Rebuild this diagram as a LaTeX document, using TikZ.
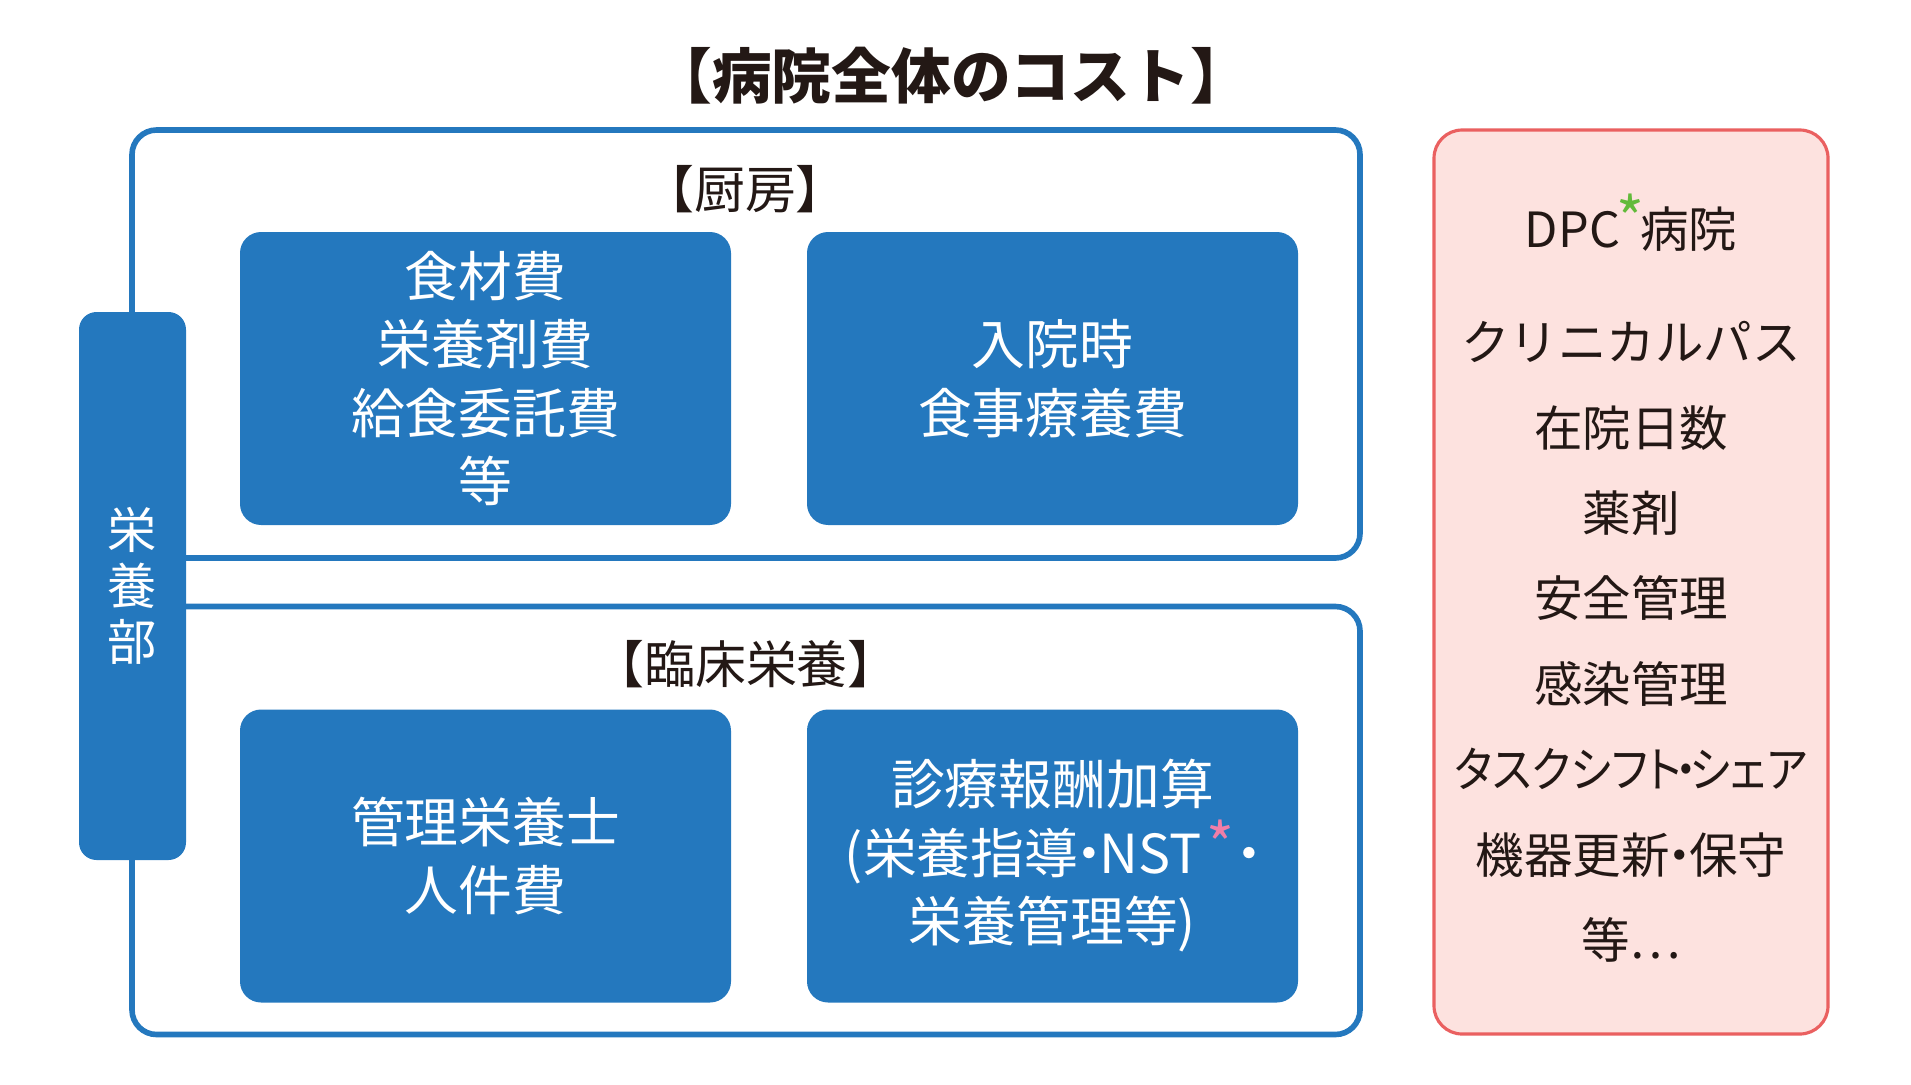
\documentclass[tikz,border=0pt]{standalone}
\usepackage{fontspec}
\setmainfont{Noto Sans CJK JP}
\definecolor{costblue}{RGB}{36,120,190}
\definecolor{ink}{RGB}{35,24,21}
\definecolor{notefill}{RGB}{253,226,223}
\definecolor{noteline}{RGB}{234,96,96}
\definecolor{stargreen}{RGB}{98,186,58}
\definecolor{starpink}{RGB}{240,126,168}
\newcommand{\dotsep}{\kern-.3em・\kern-.3em}
\newcommand{\notestar}[1]{\kern-.08em{\color{#1}\raisebox{0.12em}{\fontsize{17}{17}\selectfont *}}}
\begin{document}
\begin{tikzpicture}[every node/.style={inner sep=0,outer sep=0},
			frame/.style={draw=costblue,line width=1.6pt,rounded corners=7pt,minimum width=12.28cm,minimum height=4.28cm},
			cell/.style={fill=costblue,rounded corners=6pt,minimum width=4.91cm,minimum height=2.93cm,
				text=white,align=center,font=\fontsize{15.3}{19.5}\selectfont},
			heading/.style={text=ink,font=\fontsize{14.5}{17}\selectfont}]
			\useasboundingbox (0,0) rectangle (19.11,10.84);
			\node[text=ink,font=\fontsize{17}{20}\selectfont\bfseries] (title) at (9.51,10.08) {【病院全体のコスト】};
			% kitchen and clinical frames
			\node[frame] (kitchen) at (7.46,7.40) {};
			\node[frame] (clinic) at (7.46,2.635) {};
			\node[heading] (kitchenhd) at (7.45,8.95) {【厨房】};
			\node[heading] (clinichd) at (7.46,4.20) {【臨床栄養】};
			\node[fill=costblue,rounded corners=5pt,minimum width=1.07cm,minimum height=5.48cm,
				text=white,align=center,font=\fontsize{14}{16}\selectfont] (dept) at (1.325,4.98) {栄\\養\\部};
			\node[cell] (food) at (4.855,7.055) {食材費\\栄養剤費\\給食委託費\\等};
			\node[cell] (meal) at (10.525,7.055) {入院時\\食事療養費};
			\node[cell] (staff) at (4.855,2.28) {管理栄養士\\人件費};
			\node[cell] (fee) at (10.525,2.28) {診療報酬加算\\(栄養指導\dotsep NST\,\notestar{starpink}\kern.08em\dotsep\\栄養管理等)};
			% hospital side
			\node[draw=noteline,fill=notefill,line width=0.9pt,rounded corners=8pt,minimum width=3.94cm,minimum height=9.04cm] (note) at (16.31,5.02) {};
			\node[text=ink,align=center,font=\fontsize{13.8}{24.3}\selectfont] (items) at (16.31,5.06)
				{DPC\notestar{stargreen}\kern-.08em病院\\[8pt]クリニカルパス\\在院日数\\薬剤\\安全管理\\感染管理\\
				\scalebox{0.9}[1]{\addfontfeatures{RawFeature=+palt}タスクシフト\kern-.15em・\kern-.15emシェア}\\機器更新\dotsep 保守\\等…};
		\end{tikzpicture}
\end{document}
